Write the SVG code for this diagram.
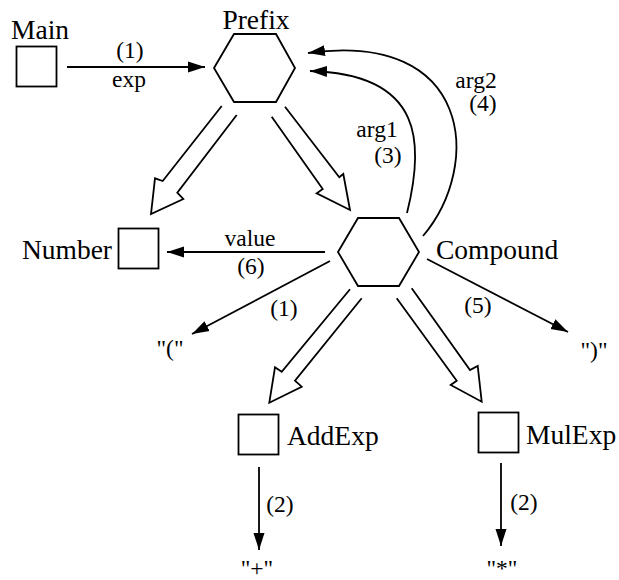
<svg xmlns="http://www.w3.org/2000/svg" width="619" height="580" viewBox="0 0 619 580">
<defs>
<style>
.box{fill:#fff;stroke:#000;stroke-width:1.8}
.hex{fill:#fff;stroke:#000;stroke-width:1.8}
.lbl{font-family:"Liberation Serif","Times New Roman",serif;font-size:27.5px;fill:#000}
.sm{font-family:"Liberation Serif","Times New Roman",serif;font-size:23.5px;fill:#000;text-anchor:middle}
.ln{fill:none;stroke:#000;stroke-width:1.8;marker-end:url(#ah)}
.hol{fill:none;stroke:#000;stroke-width:1.8;stroke-linejoin:miter}
</style>
<marker id="ah" markerUnits="userSpaceOnUse" markerWidth="18" markerHeight="12" refX="17" refY="6" orient="auto">
<path d="M0,0.5 L17,6 L0,11.5 z" fill="#000"/>
</marker>
</defs>
<rect width="619" height="580" fill="#fff"/>

<g id="connectors">
<line class="ln" x1="67" y1="67" x2="205" y2="67"/>
<polyline class="hol" points="221.7,106 162.7,181 155,178.3 151,214 183.3,199 177.3,192.7 236.7,115"/>
<polyline class="hol" points="285,106.7 339.3,177.3 343.3,174 350,210 316.7,193.3 322.7,189 271.7,116.7"/>
<path class="ln" d="M407,213 C424,145 425,74 310,71"/>
<path class="ln" d="M423,236 C483,165 472,30 308,53"/>
<line class="ln" x1="325" y1="252" x2="167" y2="252"/>
<line class="ln" x1="330" y1="261" x2="192" y2="334"/>
<line class="ln" x1="427" y1="259" x2="568" y2="332"/>
<polyline class="hol" points="350,289.3 281.7,371.7 275,367.3 269.3,402.7 301.7,386.7 295,380.7 361.7,298.3"/>
<polyline class="hol" points="411.7,288.3 470,370 477.7,366 481.7,401.7 450.7,385 456.7,380.7 396.7,298.3"/>
<line class="ln" x1="259" y1="467" x2="259" y2="550"/>
<line class="ln" x1="501" y1="463" x2="501" y2="546"/>
<text class="sm" x="130" y="58">(1)</text>
<text class="sm" x="129" y="87">exp</text>
<text class="sm" x="377" y="137">arg1</text>
<text class="sm" x="388" y="163">(3)</text>
<text class="sm" x="476" y="88">arg2</text>
<text class="sm" x="483" y="111">(4)</text>
<text class="sm" x="250" y="246">value</text>
<text class="sm" x="251" y="274">(6)</text>
<text class="sm" x="284" y="316">(1)</text>
<text class="sm" x="478" y="313">(5)</text>
<text class="sm" x="280" y="512">(2)</text>
<text class="sm" x="524" y="510">(2)</text>
</g>

<g id="main">
<rect class="box" x="16.5" y="46.5" width="40" height="40"/>
<text class="lbl" x="40" y="39" text-anchor="middle">Main</text>
</g>
<g id="prefix">
<polygon class="hex" points="214,68 234,34 276,34 295,68 276,102 234,102"/>
<text class="lbl" x="256" y="29" text-anchor="middle">Prefix</text>
</g>
<g id="compound">
<polygon class="hex" points="338,252 358,218 399,218 419,252 399,286 358,286"/>
<text class="lbl" x="436" y="259">Compound</text>
</g>
<g id="number">
<rect class="box" x="118.5" y="228.5" width="40" height="40"/>
<text class="lbl" x="112" y="259" text-anchor="end">Number</text>
</g>
<g id="addexp">
<rect class="box" x="238.5" y="414.5" width="40" height="40"/>
<text class="lbl" x="287" y="445">AddExp</text>
</g>
<g id="mulexp">
<rect class="box" x="478.5" y="412.5" width="40" height="40"/>
<text class="lbl" x="526" y="444">MulExp</text>
</g>
<g id="lparen"><text class="sm" x="170" y="356">"("</text></g>
<g id="rparen"><text class="sm" x="594" y="358">")"</text></g>
<g id="plus"><text class="sm" x="257" y="576">"+"</text></g>
<g id="star"><text class="sm" x="502" y="576">"*"</text></g>
</svg>
